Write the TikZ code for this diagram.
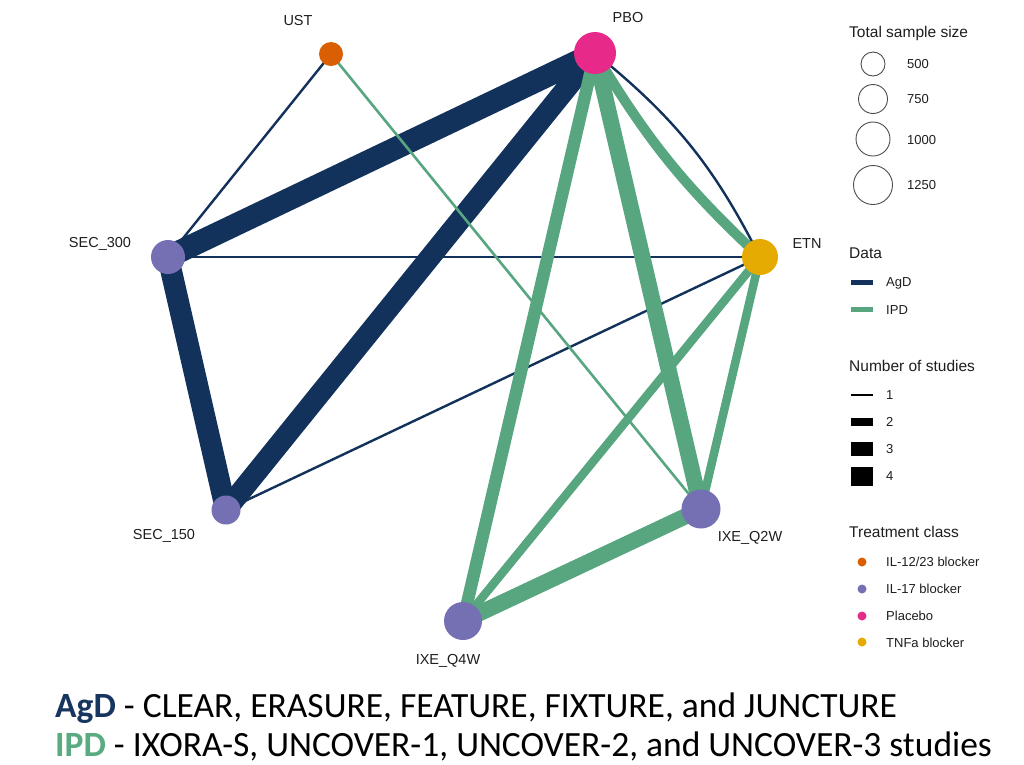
\documentclass[tikz,border=0pt]{standalone}
\usepackage{fontspec}
\setmainfont{Liberation Sans}
\newfontfamily\calfont{Carlito}
\usetikzlibrary{backgrounds}
\definecolor{agd}{RGB}{18,50,92}
\definecolor{ipd}{RGB}{87,166,128}
\definecolor{cust}{RGB}{217,95,2}
\definecolor{cil}{RGB}{117,112,179}
\definecolor{cpbo}{RGB}{231,41,138}
\definecolor{ctnf}{RGB}{230,171,2}
\definecolor{txt}{RGB}{30,30,30}
\definecolor{agdtext}{RGB}{22,54,96}
\definecolor{ipdtext}{RGB}{90,170,130}
\tikzset{
  trt/.style={circle,inner sep=0pt,draw=none},
  lbl/.style={inner sep=0pt,text=txt,font=\fontsize{14.5}{17}\selectfont},
  ltitle/.style={inner sep=0pt,anchor=west,text=txt,font=\fontsize{15.5}{18}\selectfont},
  litem/.style={inner sep=0pt,anchor=west,text=txt,font=\fontsize{13}{15}\selectfont},
  agdedge/.style={draw=agd},
  ipdedge/.style={draw=ipd},
  szcirc/.style={circle,draw=black!70,line width=0.9pt,fill=white,inner sep=0pt},
}
\begin{document}
\begin{tikzpicture}[x=1pt,y=-1pt]
\useasboundingbox (0,0) rectangle (1024,764);
% treatment nodes
\node[trt,fill=cust,minimum size=24pt] (UST) at (331,54) {};
\node[trt,fill=cpbo,minimum size=42pt] (PBO) at (595,53) {};
\node[trt,fill=ctnf,minimum size=36pt] (ETN) at (760,257) {};
\node[trt,fill=cil,minimum size=34pt] (S300) at (168,257) {};
\node[trt,fill=cil,minimum size=29pt] (S150) at (226,510) {};
\node[trt,fill=cil,minimum size=39pt] (Q2W) at (701,509) {};
\node[trt,fill=cil,minimum size=38pt] (Q4W) at (463,621) {};
% labels
\node[lbl] (lUST) at (298,21) {UST};
\node[lbl] (lPBO) at (628,18) {PBO};
\node[lbl] (lETN) at (807,244) {ETN};
\node[lbl] (lS300) at (100,244) {SEC\_300};
\node[lbl] (lS150) at (164,536) {SEC\_150};
\node[lbl] (lQ2W) at (750,538) {IXE\_Q2W};
\node[lbl] (lQ4W) at (448,661) {IXE\_Q4W};
% edges
\begin{scope}[on background layer]
\fill[white] (0,0) rectangle (1024,764);
\draw[agdedge,line width=22.5pt] (PBO.center) -- (S300.center);
\draw[agdedge,line width=21pt] (PBO.center) -- (S150.center);
\draw[agdedge,line width=21.5pt] (S300.center) -- (S150.center);
\draw[agdedge,line width=2.4pt] (UST.center) -- (S300.center);
\draw[agdedge,line width=2.4pt] (S300.center) -- (ETN.center);
\draw[agdedge,line width=2.4pt] (S150.center) -- (ETN.center);
\draw[agdedge,line width=2.4pt] (PBO.center) to[bend left=12] (ETN.center);
\draw[ipdedge,line width=10pt] (PBO.center) to[bend right=8] (ETN.center);
\draw[ipdedge,line width=2.6pt] (UST.center) -- (Q2W.center);
\draw[ipdedge,line width=16pt] (PBO.center) -- (Q2W.center);
\draw[ipdedge,line width=12.5pt] (PBO.center) -- (Q4W.center);
\draw[ipdedge,line width=16pt] (Q2W.center) -- (Q4W.center);
\draw[ipdedge,line width=8.5pt] (ETN.center) -- (Q2W.center);
\draw[ipdedge,line width=8.5pt] (ETN.center) -- (Q4W.center);
\end{scope}
% legend: total sample size
\node[ltitle] (tSize) at (849,33) {Total sample size};
\node[szcirc,minimum size=24pt] (c500) at (873,64) {};
\node[szcirc,minimum size=29pt] (c750) at (873,99) {};
\node[szcirc,minimum size=34pt] (c1000) at (873,139) {};
\node[szcirc,minimum size=39pt] (c1250) at (873,185) {};
\node[litem] (n500) at (907,64) {500};
\node[litem] (n750) at (907,99) {750};
\node[litem] (n1000) at (907,140) {1000};
\node[litem] (n1250) at (907,185) {1250};
% legend: data
\node[ltitle] (tData) at (849,253) {Data};
\draw[agd,line width=5pt] (851,282) -- (873,282);
\draw[ipd,line width=5pt] (851,309) -- (873,309);
\node[litem] (nAgD) at (886,283) {AgD};
\node[litem] (nIPD) at (886,310) {IPD};
% legend: number of studies
\node[ltitle] (tNum) at (849,366) {Number of studies};
\draw[black,line width=2.6pt] (851,395) -- (873,395);
\draw[black,line width=8pt] (851,422) -- (873,422);
\draw[black,line width=13.5pt] (851,449) -- (873,449);
\draw[black,line width=19pt] (851,476) -- (873,476);
\node[litem] (n1) at (886,395) {1};
\node[litem] (n2) at (886,422) {2};
\node[litem] (n3) at (886,449) {3};
\node[litem] (n4) at (886,476) {4};
% legend: treatment class
\node[ltitle] (tTrt) at (849,532) {Treatment class};
\fill[cust] (862,562) circle (4.5pt);
\fill[cil] (862,589) circle (4.5pt);
\fill[cpbo] (862,616) circle (4.5pt);
\fill[ctnf] (862,642) circle (4.5pt);
\node[litem] (nIL12) at (886,562) {IL-12/23 blocker};
\node[litem] (nIL17) at (886,589) {IL-17 blocker};
\node[litem] (nPla) at (886,616) {Placebo};
\node[litem] (nTNF) at (886,643) {TNFa blocker};
% bottom text
\node[inner sep=0pt,anchor=base west,font=\calfont\fontsize{35.5}{40}\selectfont] (foot1) at (55,717)
  {{\bfseries\color{agdtext}AgD} - CLEAR, ERASURE, FEATURE, FIXTURE, and JUNCTURE};
\node[inner sep=0pt,anchor=base west,font=\calfont\fontsize{35.5}{40}\selectfont] (foot2) at (55,756)
  {{\bfseries\color{ipdtext}IPD} - IXORA-S, UNCOVER-1, UNCOVER-2, and UNCOVER-3 studies};
\end{tikzpicture}
\end{document}
